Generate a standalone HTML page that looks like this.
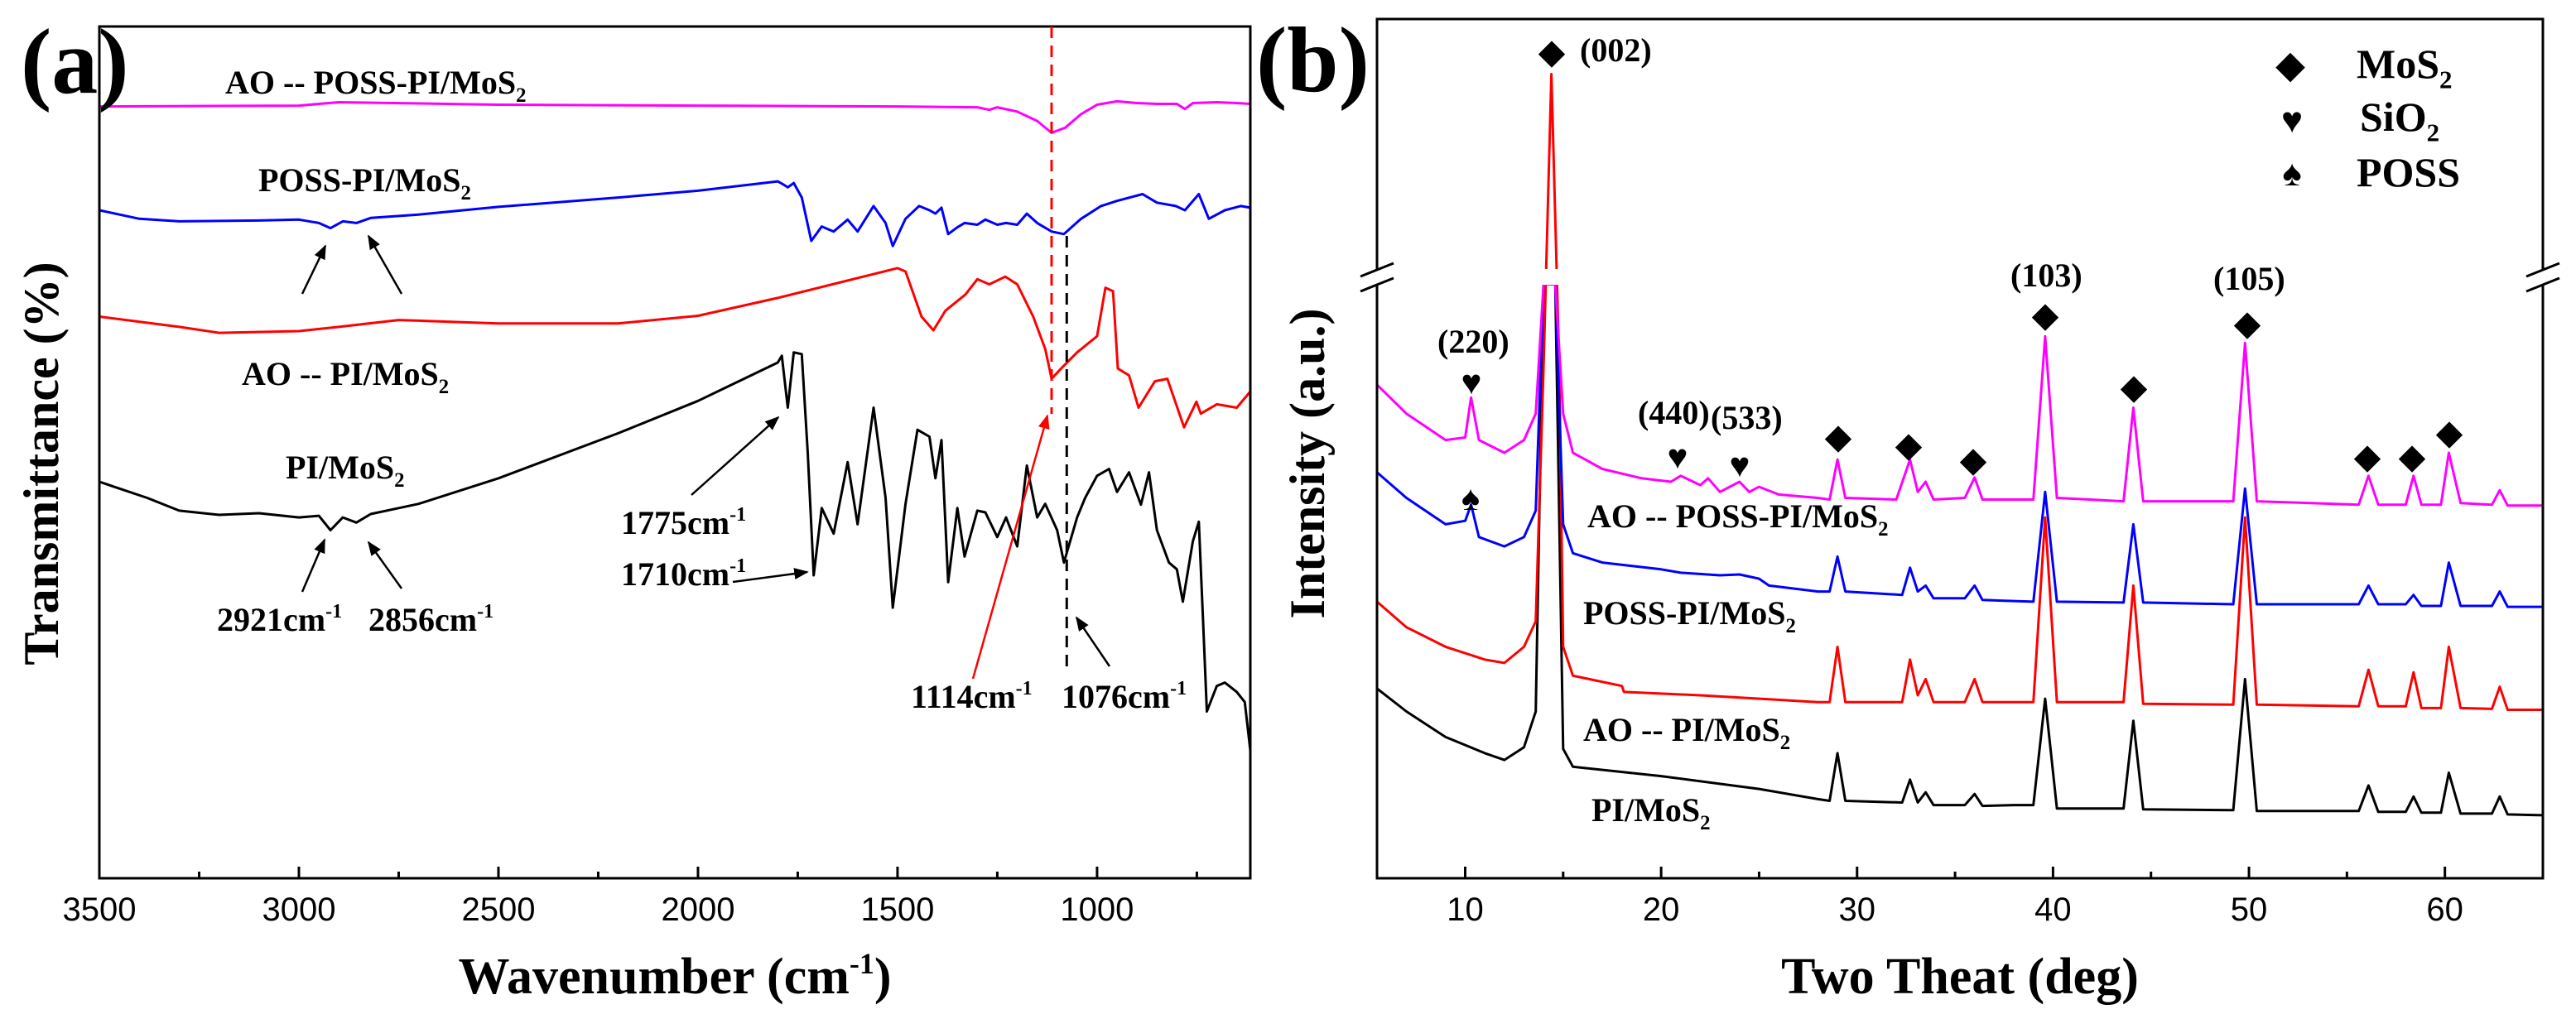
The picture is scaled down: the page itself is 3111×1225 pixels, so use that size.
<!DOCTYPE html>
<html><head><meta charset="utf-8"><style>
html,body{margin:0;padding:0;background:#fff;}
svg{display:block;}
text{font-family:"Liberation Serif",serif;font-weight:bold;fill:#000;}
.tick{font-family:"Liberation Sans",sans-serif;font-weight:normal;font-size:40px;}
</style></head><body>
<svg id="chart" width="3111" height="1225" viewBox="0 0 3111 1225" xmlns="http://www.w3.org/2000/svg">
<defs>
<marker id="ah" viewBox="0 0 10 10" refX="9" refY="5" markerWidth="7" markerHeight="7" orient="auto"><path d="M0,1 L10,5 L0,9 z" fill="#000"/></marker>
<marker id="ahr" viewBox="0 0 10 10" refX="9" refY="5" markerWidth="7" markerHeight="7" orient="auto"><path d="M0,1 L10,5 L0,9 z" fill="#f00"/></marker>
</defs>
<g id="pa"></g>
<g id="pb"></g>
</svg>
<script>
// ---------- Panel (a) FTIR data ----------
const ftirMagentaX=[3500,3000,2900,2500,2000,1500,1300,1270,1250,1200,1150,1114,1080,1040,1000,950,900,850,800,780,760,700,650,616];
const ftirMagentaY=[90.7,90.8,91.2,90.9,90.8,90.7,90.6,90.3,90.6,90.1,89.0,87.6,88.2,89.8,90.9,91.3,91.1,91.0,91.0,90.4,91.1,91.2,91.1,91.0];
const ftirBlueX=[3500,3400,3300,3100,3000,2950,2921,2890,2856,2820,2700,2500,2200,2000,1800,1785,1775,1760,1740,1716,1690,1660,1625,1600,1560,1530,1512,1480,1446,1420,1405,1390,1373,1350,1332,1300,1280,1250,1228,1200,1176,1150,1114,1083,1040,990,950,886,850,803,780,745,720,680,640,616];
const ftirBlueY=[78.5,77.5,77.2,77.3,77.4,77.0,76.4,77.2,77.0,77.6,78.0,78.9,80.0,80.8,81.9,81.5,81.2,81.7,80.0,74.9,76.6,76.0,77.4,76.0,79.0,77.0,74.3,77.5,79.0,78.5,78.1,78.8,75.7,76.5,77.0,76.8,77.4,76.8,77.0,76.8,78.1,77.0,76.0,75.7,77.5,79.0,79.6,80.4,79.4,79.0,78.5,80.4,77.5,78.5,79.0,78.8];
const ftirRedX=[3500,3300,3200,3000,2900,2750,2500,2200,2000,1800,1500,1480,1440,1410,1380,1330,1300,1270,1230,1200,1160,1130,1114,1090,1050,1000,979,960,948,920,896,855,824,782,751,740,700,650,616];
const ftirRedY=[66.0,64.8,64.1,64.3,64.8,65.6,65.2,65.2,66.1,68.2,71.7,71.3,66.0,64.4,66.7,68.6,70.4,69.8,70.7,69.8,66.0,62.2,58.7,59.9,61.8,63.7,69.4,69.0,59.9,59.1,55.3,58.4,58.7,53.0,56.0,54.6,55.7,55.3,57.2];
const ftirBlackX=[3500,3450,3380,3300,3200,3100,3000,2950,2921,2890,2856,2820,2750,2700,2500,2200,2000,1800,1790,1775,1760,1740,1725,1710,1690,1660,1625,1600,1560,1530,1512,1480,1450,1420,1405,1390,1373,1350,1332,1300,1280,1250,1228,1200,1176,1150,1130,1100,1083,1050,1030,1000,970,950,920,890,870,850,820,800,785,760,745,735,725,700,680,650,630,616];
const ftirBlackY=[46.6,45.8,44.7,43.2,42.7,42.9,42.4,42.6,40.9,42.4,41.8,42.8,43.5,44.0,47.0,52.3,56.1,60.6,61.4,55.3,61.8,61.6,50.0,35.6,43.5,40.5,48.9,41.6,55.3,44.7,31.8,44.0,52.7,51.9,47.0,51.5,34.8,43.5,37.8,43.2,43.0,40.1,42.4,39.0,48.5,42.4,44.0,40.9,37.1,42.4,44.7,47.3,48.1,45.4,47.7,43.9,47.7,40.9,37.1,36.3,32.5,39.6,41.9,31.0,19.6,22.6,23.0,21.9,20.7,15.0];
const ftirXTicks=[3500,3000,2500,2000,1500,1000];

// ---------- Panel (b) XRD data ----------
const xrdMagX=[5.5,7,9,10,10.3,10.7,12,13,13.6,14.0,14.2,14.6,15,15.5,17,19,20.5,21,22,22.4,23,24,24.5,25,26,28,28.6,29,29.4,32,32.7,33.1,33.5,33.9,35.5,36,36.4,39,39.6,40.2,43.6,44.1,44.6,49.2,49.8,50.4,55.6,56.1,56.6,58,58.4,58.8,59.8,60.2,60.8,62.4,62.8,63.2,65];
const xrdMagY=[58.0,54.6,51.5,51.8,56.5,51.5,50.0,51.5,54.6,69.8,69.8,69.8,54.6,50.0,48.1,47.0,46.6,47.3,46.2,47.0,45.4,46.6,45.4,46.0,45.1,44.7,44.5,49.2,44.7,44.5,49.2,45.4,46.6,44.5,44.7,47.1,44.5,44.5,63.7,44.7,44.3,55.3,44.3,44.3,62.9,44.3,43.9,47.3,43.9,43.9,47.3,43.9,43.9,50.0,44.1,43.9,45.6,43.8,43.8];
const xrdBlueX=[5.5,7,9,10,10.3,10.7,12,13,13.6,14.0,14.6,15,15.5,17,20,21,23,24,25,25.5,28,28.6,29,29.4,32.3,32.7,33.1,33.5,33.9,35.5,36,36.4,39,39.6,40.2,43.6,44.1,44.6,49.2,49.8,50.4,55.6,56.1,56.6,58,58.4,58.8,59.8,60.2,60.8,62.4,62.8,63.2,65];
const xrdBlueY=[47.7,44.7,41.6,42.0,43.9,40.1,39.0,40.1,43.2,69.8,69.8,41.6,38.2,37.1,36.3,35.9,35.6,35.7,35.2,34.4,33.7,33.7,37.8,33.7,33.3,36.5,33.7,34.4,32.9,32.9,34.4,32.7,32.5,45.4,32.5,32.4,41.6,32.4,32.2,45.8,32.2,32.2,34.4,32.2,32.2,33.3,32.0,32.0,37.1,32.0,32.0,33.7,31.9,31.9];
const xrdRedX=[5.5,7,9,11,12,13,13.6,14.0,14.4,14.8,15,15.5,18,18.1,22,28,28.6,29,29.4,32.3,32.7,33.1,33.5,33.9,35.5,36,36.4,39,39.6,40.2,43.6,44.1,44.6,49.2,49.8,50.4,55.6,56.1,56.6,58,58.4,58.8,59.8,60.2,60.8,62.4,62.8,63.2,65];
const xrdRedY=[32.5,29.5,27.2,25.7,25.3,27.2,30.2,60,94.5,60,27.2,23.8,22.6,21.9,21.5,20.7,20.7,27.2,20.7,20.7,25.7,21.5,23.4,20.7,20.7,23.4,20.7,20.7,42.4,20.7,20.7,34.4,20.5,20.4,42.4,20.4,20.2,24.5,20.2,20.2,24.2,20.0,20.0,27.2,20.0,19.9,22.5,19.8,19.8];
const xrdBlackX=[5.5,7,9,11,12,13,13.6,14.0,14.6,15,15.5,20,25,28,28.6,29,29.4,32.3,32.7,33.1,33.5,33.9,35.5,36,36.4,38,39,39.6,40.2,43.6,44.1,44.6,49.2,49.8,50.4,55.6,56.1,56.6,58,58.4,58.8,59.8,60.2,60.8,62.4,62.8,63.2,65];
const xrdBlackY=[22.3,19.6,16.6,14.7,13.9,15.4,19.6,69.8,69.8,15.2,13.1,12.0,10.5,9.3,9.1,14.7,9.1,8.9,11.6,8.9,10.1,8.6,8.6,9.9,8.5,8.6,8.6,21.1,8.2,8.2,18.5,8.1,8.0,23.4,7.9,7.9,10.9,7.8,7.8,9.6,7.7,7.7,12.4,7.6,7.6,9.6,7.5,7.4];
const xrdXTicks=[10,20,30,40,50,60];

const NS="http://www.w3.org/2000/svg";
function mk(parent,tag,attrs,txt){const e=document.createElementNS(NS,tag);for(const k in attrs)e.setAttribute(k,attrs[k]);if(txt!==undefined)e.textContent=txt;parent.appendChild(e);return e;}

// ---------- Panel a ----------
const A={l:120,r:1510,t:32,b:1061,x0:3500,x1:616};
const ax=v=>A.l+(A.x0-v)/(A.x0-A.x1)*(A.r-A.l);
const ay=v=>A.b-v/100*(A.b-33);
const pa=document.getElementById('pa');
function lineA(xs,ys,col,name){
  const p=mk(pa,'polyline',{points:xs.map((x,i)=>ax(x).toFixed(1)+','+ay(ys[i]).toFixed(1)).join(' '),fill:'none',stroke:col,'stroke-width':3,'stroke-linejoin':'round'});
  
  
}
lineA(ftirMagentaX,ftirMagentaY,'#ff00ff','series-ao-poss-pi-mos2');
lineA(ftirBlueX,ftirBlueY,'#0000ff','series-poss-pi-mos2');
lineA(ftirRedX,ftirRedY,'#ff0000','series-ao-pi-mos2');
lineA(ftirBlackX,ftirBlackY,'#000000','series-pi-mos2');
let fr=mk(pa,'rect',{x:A.l,y:A.t,width:A.r-A.l,height:A.b-A.t,fill:'none',stroke:'#000','stroke-width':3});

for(let v=3500;v>=A.x1;v-=250){const x=ax(v);const maj=(v%500===0);mk(pa,'line',{x1:x,x2:x,y1:A.b,y2:A.b-(maj?14:8),stroke:'#000','stroke-width':3});}
ftirXTicks.forEach(v=>{const t=mk(pa,'text',{x:ax(v),y:1112,'text-anchor':'middle',class:'tick'},String(v));
  });
// dashed lines + arrows
mk(pa,'line',{x1:ax(1114),x2:ax(1114),y1:A.t,y2:500,stroke:'#f00','stroke-width':3,'stroke-dasharray':'14,9'});
mk(pa,'line',{x1:ax(1076),x2:ax(1076),y1:285,y2:805,stroke:'#000','stroke-width':3,'stroke-dasharray':'14,9'});
[[365,355,393,297],[485,355,445,285],[365,715,392,652],[485,711,445,655],[835,598,940,504],[885,703,975,691],[1340,805,1300,746]].forEach(a=>{
  mk(pa,'line',{x1:a[0],y1:a[1],x2:a[2],y2:a[3],stroke:'#000','stroke-width':2.5,'marker-end':'url(#ah)'});});
mk(pa,'line',{x1:1175,y1:820,x2:1265,y2:502,stroke:'#f00','stroke-width':2.5,'marker-end':'url(#ahr)'});
</script>
<svg width="0" height="0"></svg>
<script>
function lab(parent,x,y,size,main,sub,after,name,col){
  const t=mk(parent,'text',{x:x,y:y,'font-size':size,fill:col||'#000'});
  
  mk(t,'tspan',{},main);
  if(sub){mk(t,'tspan',{dy:size*0.25,'font-size':size*0.62},sub);
    if(after)mk(t,'tspan',{dy:-size*0.25},after);}
  return t;
}
function sup(parent,x,y,size,main,name,col){
  const t=mk(parent,'text',{x:x,y:y,'font-size':size,fill:col||'#000'});
  
  mk(t,'tspan',{},main);mk(t,'tspan',{dy:-size*0.4,'font-size':size*0.6},'-1');
}
lab(pa,25,112,112,'(a)','', '', 'panel-label-a');
lab(pa,272,113,40,'AO -- POSS-PI/MoS','2','','label-ao-poss-pi-mos2');
lab(pa,312,231,40,'POSS-PI/MoS','2','','label-poss-pi-mos2');
lab(pa,292,465,40,'AO -- PI/MoS','2','','label-ao-pi-mos2');
lab(pa,345,578,40,'PI/MoS','2','','label-pi-mos2');
sup(pa,262,762,40,'2921cm','annotation-2921');
sup(pa,445,762,40,'2856cm','annotation-2856');
sup(pa,750,645,40,'1775cm','annotation-1775');
sup(pa,750,707,40,'1710cm','annotation-1710');
sup(pa,1100,855,40,'1114cm','annotation-1114','#f00');
sup(pa,1282,855,40,'1076cm','annotation-1076');
(function(){const t=mk(pa,'text',{x:815,y:1200,'font-size':62,'text-anchor':'middle'});
 
 mk(t,'tspan',{},'Wavenumber (cm');mk(t,'tspan',{dy:-24,'font-size':36},'-1');mk(t,'tspan',{dy:24},')');
 const y=mk(pa,'text',{x:0,y:0,'font-size':60,'text-anchor':'middle',transform:'translate(70,560) rotate(-90)'},'Transmittance (%)');
 })();

// ---------- Panel b ----------
const B={l:1663,r:3071,t:23,b:1061,x0:5.5,x1:65};
const bx=v=>B.l+(v-B.x0)/(B.x1-B.x0)*(B.r-B.l);
const by=v=>B.b-v/100*(B.b-33);
const pb=document.getElementById('pb');
function lineB(xs,ys,col,name){
  const p=mk(pb,'polyline',{points:xs.map((x,i)=>bx(x).toFixed(1)+','+by(ys[i]).toFixed(1)).join(' '),fill:'none',stroke:col,'stroke-width':3,'stroke-linejoin':'round'});
  
  
}
lineB(xrdBlackX,xrdBlackY,'#000000','xrd-series-pi-mos2');
lineB(xrdRedX,xrdRedY,'#ff0000','xrd-series-ao-pi-mos2');
lineB(xrdBlueX,xrdBlueY,'#0000ff','xrd-series-poss-pi-mos2');
lineB(xrdMagX,xrdMagY,'#ff00ff','xrd-series-ao-poss-pi-mos2');
mk(pb,'rect',{x:B.l-2,y:325,width:B.r-B.l+4,height:19,fill:'#fff'});
let fb=mk(pb,'path',{d:`M${B.l},325 V${B.t} H${B.r} V325 M${B.l},344 V${B.b} H${B.r} V344`,fill:'none',stroke:'#000','stroke-width':3});

[B.l,B.r].forEach(x=>{mk(pb,'line',{x1:x-20,y1:334,x2:x+20,y2:318,stroke:'#000','stroke-width':3});
  mk(pb,'line',{x1:x-20,y1:352,x2:x+20,y2:336,stroke:'#000','stroke-width':3});});
for(let v=10;v<=65;v+=5){const x=bx(v);const maj=(v%10===0);mk(pb,'line',{x1:x,x2:x,y1:B.b,y2:B.b-(maj?14:8),stroke:'#000','stroke-width':3});}
xrdXTicks.forEach(v=>{const t=mk(pb,'text',{x:bx(v),y:1112,'text-anchor':'middle',class:'tick'},String(v));
  });
function sym(ch,x,y,size,name){const t=mk(pb,'text',{x:x,y:y,'font-size':size,'text-anchor':'middle','font-family':'DejaVu Sans, sans-serif'},ch);
  }
const D='\u25C6',H='\u2665',S='\u2660';
sym(D,1874,76,40,'marker-002');
lab(pb,1908,74,40,'(002)','','','label-002');
sym(D,2766,93,44,'legend-mos2-symbol');lab(pb,2846,94,50,'MoS','2','','legend-mos2');
sym(H,2768,160,44,'legend-sio2-symbol');lab(pb,2850,158,50,'SiO','2','','legend-sio2');
sym(S,2768,224,44,'legend-poss-symbol');lab(pb,2846,225,50,'POSS','','','legend-poss');
lab(pb,1736,426,40,'(220)','','','label-220');sym(H,1777,476,42,'marker-220');
sym(S,1776,616,42,'marker-poss');
lab(pb,1978,512,40,'(440)','','','label-440');sym(H,2026,566,42,'marker-440');
lab(pb,2066,518,40,'(533)','','','label-533');sym(H,2101,576,42,'marker-533');
lab(pb,2428,346,40,'(103)','','','label-103');sym(D,2470,394,40,'marker-103');
lab(pb,2673,350,40,'(105)','','','label-105');sym(D,2714,404,40,'marker-105');
[[2220,541],[2305,551],[2383,569],[2577,481],[2859,565],[2913,565],[2958,536]].forEach((p,i)=>sym(D,p[0],p[1],40,'marker-mos2-'+i));
lab(pb,1917,637,40,'AO -- POSS-PI/MoS','2','','label-xrd-ao-poss-pi-mos2');
lab(pb,1912,754,40,'POSS-PI/MoS','2','','label-xrd-poss-pi-mos2');
lab(pb,1912,895,40,'AO -- PI/MoS','2','','label-xrd-ao-pi-mos2');
lab(pb,1922,992,40,'PI/MoS','2','','label-xrd-pi-mos2');
lab(pb,1517,110,112,'(b)','','','panel-label-b');
(function(){const t=mk(pb,'text',{x:2367,y:1200,'font-size':62,'text-anchor':'middle'},'Two Theat (deg)');
 
 const y=mk(pb,'text',{x:0,y:0,'font-size':60,'text-anchor':'middle',transform:'translate(1599,560) rotate(-90)'},'Intensity (a.u.)');
 })();
</script>
</body></html>
